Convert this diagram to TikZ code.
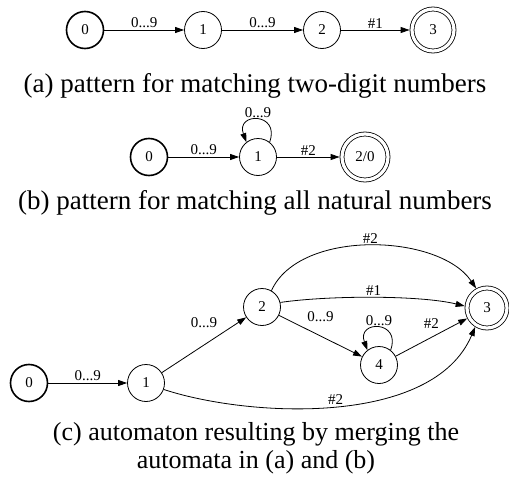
\documentclass[tikz,border=0pt]{standalone}
\usepackage{fontspec}
\setmainfont{Liberation Serif}
\usetikzlibrary{arrows.meta}
\begin{document}
\begin{tikzpicture}[x=1pt,y=1pt,
  st/.style={circle, draw, line width=0.8pt, minimum size=37pt, inner sep=0pt, font=\fontsize{15}{17}\selectfont},
  init/.style={st, line width=1.6pt},
  acc/.style={st, double, double distance=3.2pt, outer sep=2.4pt},
  lbl/.style={font=\fontsize{15}{17}\selectfont, inner sep=1.5pt},
  captxt/.style={font=\fontsize{27}{29}\selectfont, inner sep=0pt, align=center},
  tr/.style={draw, line width=0.8pt, -{Triangle[length=9pt,width=6pt]}}]
\useasboundingbox (0,0) rectangle (509,-479);

% (a)
\node[init] (a0) at (85,-30) {0};
\node[st] (a1) at (203,-30) {1};
\node[st] (a2) at (322,-30) {2};
\node[acc, minimum size=42pt] (a3) at (433,-30) {3};
\draw[tr] (a0) -- node[lbl, above] {0...9} (a1);
\draw[tr] (a1) -- node[lbl, above] {0...9} (a2);
\draw[tr] (a2) -- node[lbl, above] {\#1} (a3);
\node[captxt] (capa) at (255,-86) {(a) pattern for matching two-digit numbers};

% (b)
\node[init] (b0) at (149,-157) {0};
\node[st] (b1) at (258,-157) {1};
\node[acc, minimum size=46pt] (b2) at (365,-157) {2/0};
\draw[tr] (b0) -- node[lbl, above] {0...9} (b1);
\draw[tr] (b1) -- node[lbl, above] {\#2} (b2);
\draw[tr] (b1.52) .. controls +(70:32) and +(110:32) .. node[lbl, above] {0...9} (b1.128);
\node[captxt] (capb) at (255,-203) {(b) pattern for matching all natural numbers};

% (c)
\node[init] (c0) at (29,-383) {0};
\node[st] (c1) at (146,-383) {1};
\node[st] (c2) at (262,-307) {2};
\node[st] (c4) at (379,-365) {4};
\node[acc, minimum size=40pt] (c3) at (487,-308) {3};
\draw[tr] (c0) -- node[lbl, above] {0...9} (c1);
\draw[tr] (c1) -- node[lbl, midway, yshift=22pt] {0...9} (c2);
\draw[tr] (c2) -- node[lbl, midway, yshift=19pt] {0...9} (c4);
\draw[tr] (c4) -- node[lbl, midway, yshift=14pt] {\#2} (c3);
\draw[tr] (c4.52) .. controls +(70:32) and +(110:32) .. node[lbl, above] {0...9} (c4.128);
\draw[tr] (c2.60) .. controls +(28,62) and +(-37,55) .. node[lbl, above] {\#2} (c3.119);
\draw[tr] (c2.14) .. controls +(48,7) and +(-45,11) .. node[lbl, above] {\#1} (c3.175);
\draw[tr] (c1.-20) .. controls +(85,-28) and +(-42,-100) .. node[lbl, pos=0.5, above] {\#2} (c3.238);
\node[captxt, font=\fontsize{26}{28}\selectfont] (capc) at (256,-448) {(c) automaton resulting by merging the\\automata in (a) and (b)};
\end{tikzpicture}
\end{document}
